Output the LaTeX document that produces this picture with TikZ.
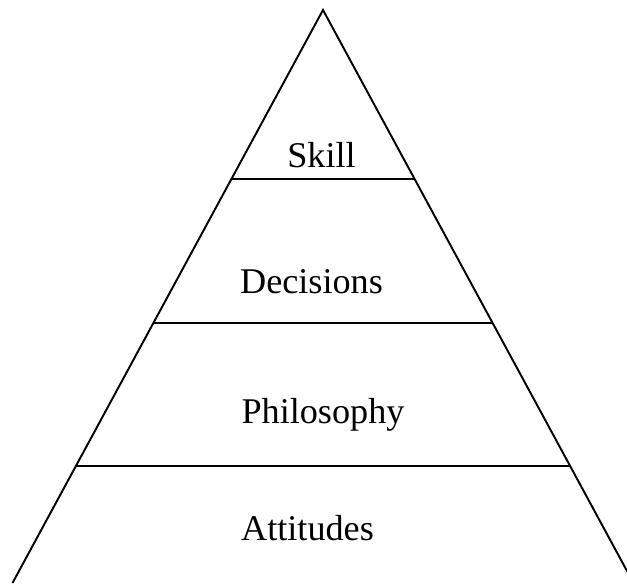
\documentclass[tikz,border=0pt]{standalone}
\usepackage{fontspec}
\setmainfont{Liberation Serif}
\usepackage{tikz}
\usetikzlibrary{calc}

\begin{document}
\begin{tikzpicture}[
    side/.style={draw=black, line width=1.1pt},
    layer/.style={draw=black, line width=1.1pt},
    level/.style={anchor=base, inner sep=0pt, font=\fontsize{20.6}{24}\selectfont},
]
    \useasboundingbox (0,0) rectangle (12.54,11.66);
    \clip (0,0) rectangle (12.54,11.66);

    % pyramid outline
    \coordinate (apex) at (6.46,11.46);
    \coordinate (bl) at (0.25,0);
    \coordinate (br) at (12.67,0);
    \draw[side] (bl) -- (apex) -- (br);

    % dividers between the levels
    \foreach \t/\n in {0.2949/a, 0.5463/b, 0.7958/c} {
        \coordinate (l\n) at ($(apex)!\t!(bl)$);
        \coordinate (r\n) at ($(apex)!\t!(br)$);
        \draw[layer] (l\n) -- (r\n);
    }

    % level labels
    \node[level] (skill) at (6.43,8.30) {Skill};
    \node[level] (decisions) at (6.23,5.78) {Decisions};
    \node[level] (philosophy) at (6.46,3.20) {Philosophy};
    \node[level] (attitudes) at (6.15,0.86) {Attitudes};
\end{tikzpicture}
\end{document}
